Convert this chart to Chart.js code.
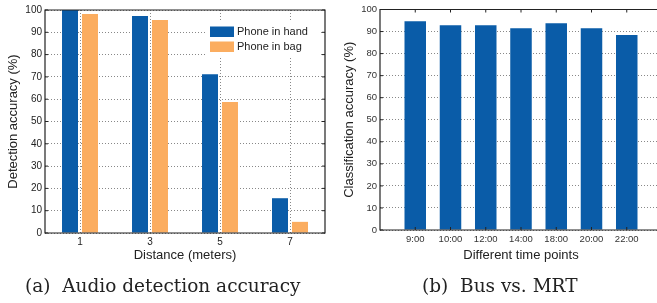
<!DOCTYPE html>
<html>
<head>
<meta charset="utf-8">
<script src="https://cdn.jsdelivr.net/npm/chart.js@4.4.1/dist/chart.umd.min.js"></script>
<style>
  html, body { margin:0; padding:0; background:#fff; overflow:hidden; width:657px; height:303px; }
  #wrap1 { position:absolute; left:0; top:0; width:330px; height:303px; }
  #wrap2 { position:absolute; left:330px; top:0; width:336px; height:303px; }
  .cap { position:absolute; top:275px; font-family:"DejaVu Serif", serif; font-size:18.5px; line-height:22px; color:#222; white-space:nowrap; }
</style>
</head>
<body>
<div id="wrap1"><canvas id="c1" width="330" height="303"></canvas></div>
<div id="wrap2"><canvas id="c2" width="336" height="303"></canvas></div>
<div class="cap" id="capA" style="left:25px;">(a)&nbsp; Audio detection accuracy</div>
<div class="cap" id="capB" style="left:422px;">(b)&nbsp; Bus vs. MRT</div>
<script>
// ---- data ----
const distances = ['1', '3', '5', '7'];
const phoneInHand = [100, 97.3, 71.2, 15.6];
const phoneInBag = [98.2, 95.5, 58.7, 5.0];
const seriesNames = ['Phone in hand', 'Phone in bag'];
const yTicks = [0, 10, 20, 30, 40, 50, 60, 70, 80, 90, 100];

const timePoints = ['9:00', '10:00', '12:00', '14:00', '18:00', '20:00', '22:00'];
const busVsMrt = [94.7, 92.9, 92.9, 91.5, 93.8, 91.5, 88.4];

const BLUE = '#0a5ca8';
const ORANGE = '#fbad60';
const GRID = '#888';
const FONT = "'Liberation Sans', Arial, sans-serif";

// frame + inward ticks (MATLAB style)
const framePlugin = {
  id: 'frame',
  afterDatasetsDraw(chart, args, opts) {
    const {ctx, chartArea: a, scales} = chart;
    ctx.save();
    ctx.strokeStyle = '#222';
    ctx.lineWidth = 1.2;
    ctx.beginPath();
    ctx.rect(a.left, a.top, a.right - a.left, a.bottom - a.top);
    ctx.stroke();
    ctx.lineWidth = 1;
    ctx.beginPath();
    const t = 3;
    scales.y.ticks.forEach(tk => {
      const y = scales.y.getPixelForValue(tk.value);
      ctx.moveTo(a.left, y); ctx.lineTo(a.left + t, y);
      ctx.moveTo(a.right, y); ctx.lineTo(a.right - t, y);
    });
    (opts.xIdx || []).forEach(i => {
      const x = scales.x.getPixelForTick(i);
      ctx.moveTo(x, a.top); ctx.lineTo(x, a.top + t);
      ctx.moveTo(x, a.bottom); ctx.lineTo(x, a.bottom - t);
    });
    ctx.stroke();
    ctx.restore();
  }
};

const legendPlugin = {
  id: 'inLegend',
  afterDraw(chart, args, opts) {
    if (!opts.show) return;
    const {ctx, chartArea: a} = chart;
    const bx = a.right - 120, by = a.top + 11, bw = 116, bh = 36;
    ctx.save();
    ctx.fillStyle = '#fff';
    ctx.fillRect(bx, by, bw, bh);
    ctx.font = "11px " + FONT;
    ctx.textBaseline = 'middle';
    chart.data.datasets.forEach((ds, i) => {
      const sy = by + 5.5 + i * 15;
      ctx.fillStyle = ds.backgroundColor;
      ctx.fillRect(bx + 5, sy, 24, 10.5);
      ctx.fillStyle = '#222';
      ctx.fillText(ds.label, bx + 32, sy + 5.5);
    });
    ctx.restore();
  }
};

// ---- left chart ----
new Chart(document.getElementById('c1'), {
  type: 'bar',
  data: {
    labels: distances,
    datasets: [
      { label: seriesNames[0], data: phoneInHand, backgroundColor: BLUE, barPercentage: 0.8, categoryPercentage: 0.571 },
      { label: seriesNames[1], data: phoneInBag, backgroundColor: ORANGE, barPercentage: 0.8, categoryPercentage: 0.571 }
    ]
  },
  options: {
    responsive: false, animation: false, devicePixelRatio: 1,
    layout: { padding: { top: 10, right: 5, bottom: 35, left: 0 } },
    plugins: { legend: { display: false }, tooltip: { enabled: false }, frame: { xIdx: [] }, inLegend: { show: true } },
    scales: {
      x: {
        grid: { offset: false, color: GRID, drawTicks: false },
        border: { display: false, dash: [1, 2] },
        ticks: { color: '#222', font: { family: FONT, size: 10 }, padding: 3 },
        title: { display: true, text: 'Distance (meters)', color: '#222', font: { family: FONT, size: 13 }, padding: { top: 0, bottom: 5 } },
        afterFit(s) { s.height = 35; }
      },
      y: {
        min: 0, max: 100,
        afterBuildTicks(s) { s.ticks = yTicks.map(v => ({ value: v })); },
        grid: { color: GRID, drawTicks: false },
        border: { display: false, dash: [1, 2] },
        ticks: { color: '#222', font: { family: FONT, size: 10 }, padding: 3 },
        title: { display: true, text: 'Detection accuracy (%)', color: '#222', font: { family: FONT, size: 13 }, padding: { top: 6, bottom: 0 } },
        afterFit(s) { s.width = 45; }
      }
    }
  },
  plugins: [framePlugin, legendPlugin]
});

// ---- right chart ----
const paddedLabels = [''].concat(timePoints, ['']);
const paddedData = [null].concat(busVsMrt, [null]);
new Chart(document.getElementById('c2'), {
  type: 'bar',
  data: {
    labels: paddedLabels,
    datasets: [{ label: 'Bus vs. MRT', data: paddedData, backgroundColor: BLUE, barPercentage: 0.61, categoryPercentage: 1 }]
  },
  options: {
    responsive: false, animation: false, devicePixelRatio: 1,
    layout: { padding: { top: 9.5, right: 3, bottom: 35, left: 0 } },
    plugins: { legend: { display: false }, tooltip: { enabled: false }, frame: { xIdx: timePoints.map((_, i) => i + 1) }, inLegend: { show: false } },
    scales: {
      x: {
        offset: false,
        grid: { display: false, drawTicks: false },
        border: { display: false },
        ticks: { color: '#333', font: { family: FONT, size: 9.5 }, padding: 4, maxRotation: 0, autoSkip: false },
        title: { display: true, text: 'Different time points', color: '#222', font: { family: FONT, size: 13 }, padding: { top: 0, bottom: 5 } },
        afterFit(s) { s.height = 38; }
      },
      y: {
        min: 0, max: 100,
        afterBuildTicks(s) { s.ticks = yTicks.map(v => ({ value: v })); },
        grid: { color: GRID, drawTicks: false },
        border: { display: false, dash: [1, 2] },
        ticks: { color: '#333', font: { family: FONT, size: 9.5 }, padding: 3 },
        title: { display: true, text: 'Classification accuracy (%)', color: '#222', font: { family: FONT, size: 13 }, padding: { top: 12, bottom: 0 } },
        afterFit(s) { s.width = 50; }
      }
    }
  },
  plugins: [framePlugin, legendPlugin]
});
</script>
</body>
</html>
